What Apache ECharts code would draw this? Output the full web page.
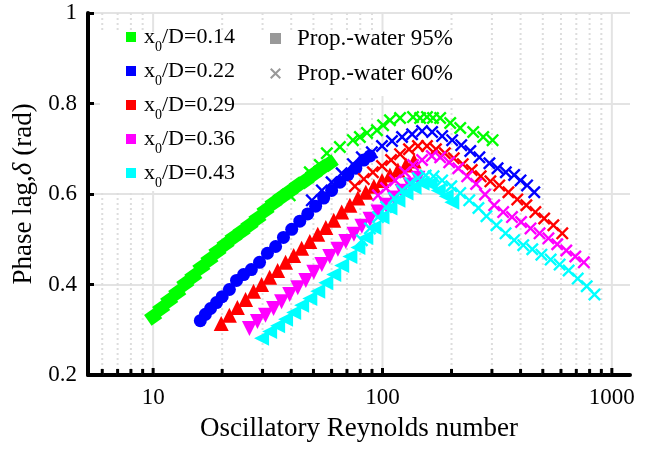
<!DOCTYPE html>
<html>
<head>
<meta charset="utf-8">
<script src="https://cdn.jsdelivr.net/npm/echarts@6/dist/echarts.min.js"></script>
<style>html,body{margin:0;padding:0;background:#fff;}#chart{width:649px;height:449px;}</style>
</head>
<body>
<div id="chart"></div>
<script>
// ---- data (Re_osc, phase lag) ----
const ratioLabels = ['0.14', '0.22', '0.29', '0.36', '0.43'];
const xTickLabels = [10, 100, 1000];
const xMinorTicks = [6, 7, 8, 9, 20, 30, 40, 50, 60, 70, 80, 90, 200, 300, 400, 500, 600, 700, 800, 900];

const green95 = [[10.0,0.329],[10.84,0.347],[11.75,0.365],[12.74,0.382],[13.81,0.402],[14.97,0.418],[16.23,0.438],[17.6,0.455],[19.07,0.473],[20.68,0.489],[22.42,0.504],[24.3,0.517],[26.3,0.531],[28.5,0.546],[30.9,0.564],[33.5,0.580],[36.3,0.593],[39.4,0.606],[42.7,0.619],[46.3,0.630],[50.2,0.644],[54.4,0.657],[58.9,0.668]];
const green60 = [[39.4,0.597],[48.2,0.648],[53.3,0.664],[57.2,0.690],[65.2,0.704],[74.3,0.719],[79.7,0.726],[85.6,0.735],[94.6,0.741],[100.6,0.752],[107.8,0.763],[119.3,0.768],[135.9,0.770],[145.9,0.768],[156.3,0.770],[166,0.768],[178.5,0.768],[197.4,0.757],[218.3,0.746],[248.7,0.737],[275,0.726],[302,0.719]];
const blue95 = [[16.06,0.320],[16.9,0.334],[17.8,0.347],[18.9,0.360],[20.0,0.373],[21.5,0.389],[23.1,0.409],[24.8,0.422],[26.8,0.433],[29.1,0.449],[31.5,0.469],[34.2,0.484],[37.0,0.504],[40.2,0.522],[43.6,0.540],[47.2,0.556],[51.1,0.573],[55.4,0.591],[60.0,0.608],[65.2,0.626],[70.6,0.642],[76.5,0.657],[82.9,0.675],[88.2,0.684]];
const blue60 = [[49.2,0.586],[54.4,0.608],[60.0,0.626],[66.4,0.646],[74.3,0.666],[81.3,0.681],[89.9,0.692],[99.5,0.706],[110,0.717],[121.7,0.726],[134.6,0.732],[148.8,0.739],[164.6,0.737],[182,0.728],[201.3,0.719],[220.5,0.708],[241.5,0.695],[264.5,0.681],[292.6,0.668],[317.5,0.657],[345,0.648],[375,0.642],[399.7,0.630],[427,0.619],[459,0.604]];
const red95 = [[19.8,0.314],[21.5,0.332],[23.3,0.349],[25.3,0.367],[27.4,0.385],[29.7,0.400],[32.2,0.416],[34.9,0.431],[37.8,0.449],[41.0,0.464],[44.4,0.480],[48.2,0.495],[52.2,0.511],[56.6,0.526],[61.3,0.542],[66.4,0.560],[72.1,0.575],[78.1,0.591],[84.6,0.604],[91.7,0.617],[99.5,0.630],[107.8,0.642],[116.8,0.653],[126.6,0.664],[137.3,0.673]];
const red60 = [[75.8,0.617],[82.9,0.633],[90.8,0.648],[99.5,0.662],[109,0.675],[119.3,0.688],[130.5,0.699],[142.8,0.706],[156.3,0.706],[171,0.699],[187,0.690],[204.6,0.679],[223.9,0.666],[245,0.653],[268,0.639],[295.4,0.628],[323,0.619],[354,0.604],[387,0.588],[424,0.575],[464,0.560],[507,0.546],[556,0.531],[608,0.513]];
const magenta95 = [[26.3,0.303],[28.5,0.318],[30.9,0.332],[33.5,0.347],[36.3,0.362],[39.4,0.378],[42.7,0.393],[46.3,0.409],[50.2,0.427],[54.4,0.444],[58.9,0.462],[63.9,0.478],[69.2,0.495],[75.1,0.511],[81.3,0.529],[88.2,0.544],[95.6,0.560],[103.7,0.575],[112.4,0.591],[121.7,0.606],[131.9,0.620],[142.8,0.635]];
const magenta60 = [[95.6,0.597],[103.7,0.613],[113.5,0.630],[125.3,0.648],[135.9,0.664],[148.8,0.675],[164,0.684],[178.5,0.681],[195.4,0.670],[214,0.657],[234,0.639],[256,0.622],[280,0.599],[307,0.575],[336,0.560],[367,0.549],[402,0.538],[442,0.524],[484,0.513],[529,0.502],[578,0.489],[633,0.475],[693,0.462],[755,0.449]];
const cyan95 = [[29.7,0.281],[32.2,0.296],[34.9,0.309],[37.8,0.323],[41.0,0.338],[44.4,0.354],[48.2,0.369],[52.2,0.385],[56.6,0.404],[61.3,0.422],[66.4,0.442],[72.1,0.462],[78.1,0.482],[84.6,0.504],[91.7,0.526],[99.5,0.549],[107.8,0.569],[116.8,0.586],[126.6,0.602],[137.3,0.615],[148.8,0.624],[161.4,0.622],[175,0.608],[189.6,0.595],[200.6,0.582]];
const cyan60 = [[81.3,0.498],[88.2,0.524],[95.6,0.549],[103.7,0.571],[112.4,0.591],[121.7,0.608],[131.9,0.624],[142.8,0.635],[154.3,0.641],[167,0.639],[182,0.630],[199.6,0.617],[218.3,0.602],[239,0.586],[262,0.569],[284,0.551],[314,0.531],[344,0.513],[375,0.498],[411,0.487],[450,0.478],[493,0.466],[541,0.455],[592,0.444],[648,0.431],[710,0.413],[777,0.396],[840,0.378]];

const filledData = [green95, blue95, red95, magenta95, cyan95];
const crossData = [green60, blue60, red60, magenta60, cyan60];

// ---- styling ----
const COLORS = ['#00ff00', '#0000ff', '#ff0000', '#ff00ff', '#00ffff'];
const SYMBOLS = ['rect', 'circle', 'triangle', 'triangle', 'triangle'];
const ROTATE = [35, 0, 0, 180, 90];
const SIZES = [13, 13, 15, 15, 15];
const XPATH = 'path://M0,1.3L1.3,0L5,3.7L8.7,0L10,1.3L6.3,5L10,8.7L8.7,10L5,6.3L1.3,10L0,8.7L3.7,5Z';
const FONT = 'Liberation Serif';
const X_MIN = 5.2, X_MAX = 1200, Y_MIN = 0.2, Y_MAX = 1;

const names = ratioLabels.map(r => 'x0/D=' + r);
const gridData = xTickLabels.map(v => [v, 1]).concat(xMinorTicks.map(v => [v, 0]));

const series = [{
  type: 'custom',
  name: 'grid',
  silent: true,
  z: 1,
  data: gridData,
  renderItem: function (params, api) {
    const v = api.value(0);
    const major = api.value(1) === 1;
    const b = api.coord([v, Y_MIN]);
    const t = api.coord([v, Y_MAX]);
    return {
      type: 'group',
      children: [
        {type: 'line', shape: {x1: b[0], y1: b[1], x2: t[0], y2: t[1]},
         style: {stroke: major ? '#e3e3e3' : '#dddddd', lineWidth: 2, lineDash: major ? null : [2, 3]}},
        {type: 'line', shape: {x1: b[0], y1: b[1], x2: b[0], y2: b[1] - (major ? 7 : 6)},
         style: {stroke: '#000', lineWidth: 3}}
      ]
    };
  }
}];
filledData.forEach((d, i) => {
  series.push({type: 'scatter', name: names[i], data: d, z: 3, symbol: SYMBOLS[i], symbolSize: SIZES[i],
    symbolRotate: ROTATE[i], itemStyle: {color: COLORS[i], opacity: 1}, emphasis: {disabled: true}});
});
crossData.forEach((d, i) => {
  series.push({type: 'scatter', name: names[i], data: d, z: 4, symbol: XPATH, symbolSize: 13,
    itemStyle: {color: COLORS[i], opacity: 1}, emphasis: {disabled: true}});
});
series.push({type: 'scatter', name: 'Prop.-water 95%', data: [], itemStyle: {color: '#808080'}, symbol: 'rect'});
series.push({type: 'scatter', name: 'Prop.-water 60%', data: [], itemStyle: {color: '#808080'}, symbol: XPATH});

const chart = echarts.init(document.getElementById('chart'), null, {renderer: 'canvas'});
chart.setOption({
  animation: false,
  backgroundColor: '#fff',
  grid: {left: 88, top: 13, right: 19, bottom: 74, containLabel: false},
  xAxis: {
    type: 'log', logBase: 10, min: X_MIN, max: X_MAX,
    name: 'Oscillatory Reynolds number', nameLocation: 'middle', nameGap: 40,
    nameTextStyle: {fontFamily: FONT, fontSize: 27, color: '#000'},
    axisLine: {show: true, lineStyle: {color: '#000', width: 4}},
    axisTick: {show: false}, minorTick: {show: false},
    splitLine: {show: false}, minorSplitLine: {show: false},
    axisLabel: {fontFamily: FONT, fontSize: 23, color: '#000', margin: 11,
      showMinLabel: false, showMaxLabel: false,
      formatter: function (v) { const r = Math.round(v); return xTickLabels.indexOf(r) >= 0 ? String(r) : ''; }}
  },
  yAxis: {
    type: 'value', min: Y_MIN, max: Y_MAX, interval: 0.2,
    name: 'Phase lag,{i|δ} (rad)', nameLocation: 'middle', nameGap: 48, nameRotate: 90,
    nameTextStyle: {fontFamily: FONT, fontSize: 27, color: '#000',
      rich: {i: {fontFamily: FONT, fontSize: 27, fontStyle: 'italic', color: '#000'}}},
    axisLine: {show: true, lineStyle: {color: '#000', width: 4}},
    axisTick: {show: true, inside: true, length: 6, lineStyle: {color: '#000', width: 3}},
    splitLine: {show: true, lineStyle: {color: '#e3e3e3', width: 2}},
    axisLabel: {fontFamily: FONT, fontSize: 23, color: '#000', margin: 11}
  },
  graphic: [
    {type: 'rect', z: 2, silent: true, shape: {x: 100, y: 32, width: 133, height: 159}, style: {fill: '#fff'}},
    {type: 'rect', z: 2, silent: true, shape: {x: 233, y: 32, width: 222, height: 64}, style: {fill: '#fff'}}
  ],
  legend: [{
    z: 6, orient: 'vertical', left: 126, top: 26, padding: 0, itemGap: 6,
    itemWidth: 10, itemHeight: 10, icon: 'rect', selectedMode: false,
    data: names,
    formatter: function (n) { return '{a|x}{sub|0}{a|' + n.slice(2) + '}'; },
    textStyle: {fontFamily: FONT, fontSize: 22, color: '#000', padding: [0, 0, 0, 3],
      rich: {
        a: {fontFamily: FONT, fontSize: 22, color: '#000', lineHeight: 34, verticalAlign: 'middle'},
        sub: {fontFamily: FONT, fontSize: 14, color: '#000', lineHeight: 14, verticalAlign: 'bottom'}
      }}
  }, {
    z: 6, orient: 'vertical', left: 270, top: 27, padding: 0, itemGap: 12,
    itemWidth: 11, itemHeight: 11, selectedMode: false,
    data: [{name: 'Prop.-water 95%', icon: 'rect'}, {name: 'Prop.-water 60%', icon: XPATH}],
    formatter: function (n) { return '{a|' + n + '}'; },
    textStyle: {fontFamily: FONT, fontSize: 23, color: '#000', padding: [0, 0, 0, 11],
      rich: {a: {fontFamily: FONT, fontSize: 23, color: '#000', lineHeight: 34, verticalAlign: 'middle'}}}
  }],
  series: series
});
</script>
</body>
</html>
